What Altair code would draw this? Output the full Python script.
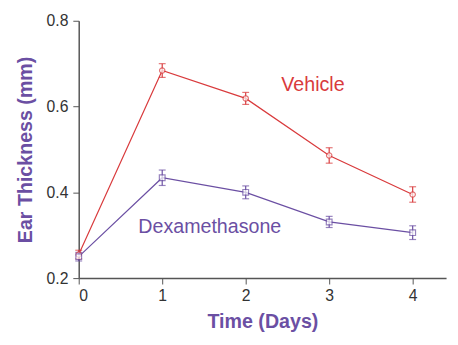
import altair as alt
import pandas as pd

days = [0, 1, 2, 3, 4]
vehicle = [0.255, 0.684, 0.619, 0.486, 0.395]
vehicle_err = [0.010, 0.016, 0.014, 0.018, 0.018]
dex = [0.250, 0.434, 0.400, 0.331, 0.306]
dex_err = [0.010, 0.018, 0.015, 0.013, 0.016]

label_text = ["Vehicle", "Dexamethasone"]
label_x = [2.806, 1.57]
label_y = [0.65, 0.319]

RED = "#d93a3c"
PURPLE = "#6b4fa3"

rows = []
for d, v, e in zip(days, vehicle, vehicle_err):
    rows.append({"day": d, "val": v, "lo": v - e, "hi": v + e, "group": "Vehicle"})
for d, v, e in zip(days, dex, dex_err):
    rows.append({"day": d, "val": v, "lo": v - e, "hi": v + e, "group": "Dexamethasone"})
df = pd.DataFrame(rows)
labels = pd.DataFrame({"text": label_text, "x": label_x, "y": label_y, "group": label_text})

color = alt.Color("group:N", scale=alt.Scale(domain=["Vehicle", "Dexamethasone"], range=[RED, PURPLE]), legend=None)
xs = alt.Scale(domain=[0, 4.4], nice=False)
ys = alt.Scale(domain=[0.2, 0.8], nice=False)

xax = alt.X("day:Q", scale=xs, axis=alt.Axis(values=[0, 1, 2, 3, 4], format="d", title="Time (Days)", titlePadding=8, labelPadding=4))
yax = alt.Y("val:Q", scale=ys, axis=alt.Axis(values=[0.2, 0.4, 0.6, 0.8], format=".1f", title="Ear Thickness (mm)", titlePadding=11, labelPadding=5))

base = alt.Chart(df)
lines = base.mark_line(strokeWidth=1.2).encode(x=xax, y=yax, color=color, detail="group:N")
bars = base.mark_rule(strokeWidth=1.2).encode(x="day:Q", y="lo:Q", y2="hi:Q", color=color)
cap_lo = base.mark_tick(orient="horizontal", size=7, thickness=1.2).encode(x="day:Q", y="lo:Q", color=color)
cap_hi = base.mark_tick(orient="horizontal", size=7, thickness=1.2).encode(x="day:Q", y="hi:Q", color=color)
circ = base.transform_filter("datum.group == 'Vehicle'").mark_point(shape="circle", filled=True, fill="white", size=30, strokeWidth=1.2).encode(x="day:Q", y="val:Q", stroke=alt.value(RED))
sq = base.transform_filter("datum.group == 'Dexamethasone'").mark_point(shape="square", filled=True, fill="white", size=34, strokeWidth=1.2).encode(x="day:Q", y="val:Q", stroke=alt.value(PURPLE))
txt = alt.Chart(labels).mark_text(fontSize=20, font="Liberation Sans").encode(x="x:Q", y="y:Q", text="text:N", color=color)

chart = alt.layer(lines, bars, cap_lo, cap_hi, circ, sq, txt).properties(
    width=374, height=262,
    autosize=alt.AutoSizeParams(type="none"),
    padding={"left": 72, "top": 10, "right": 4, "bottom": 60},
).configure_view(stroke=None).configure_axis(
    grid=False, domainColor="#555", tickColor="#555", domainWidth=1.5,
    labelFont="Liberation Sans", labelFontSize=16, labelColor="#333",
    titleFont="Liberation Sans", titleFontSize=20, titleFontWeight="bold", titleColor=PURPLE,
    tickSize=6,
)

chart.save("out.html", embed_options={"renderer": "svg", "actions": False})
